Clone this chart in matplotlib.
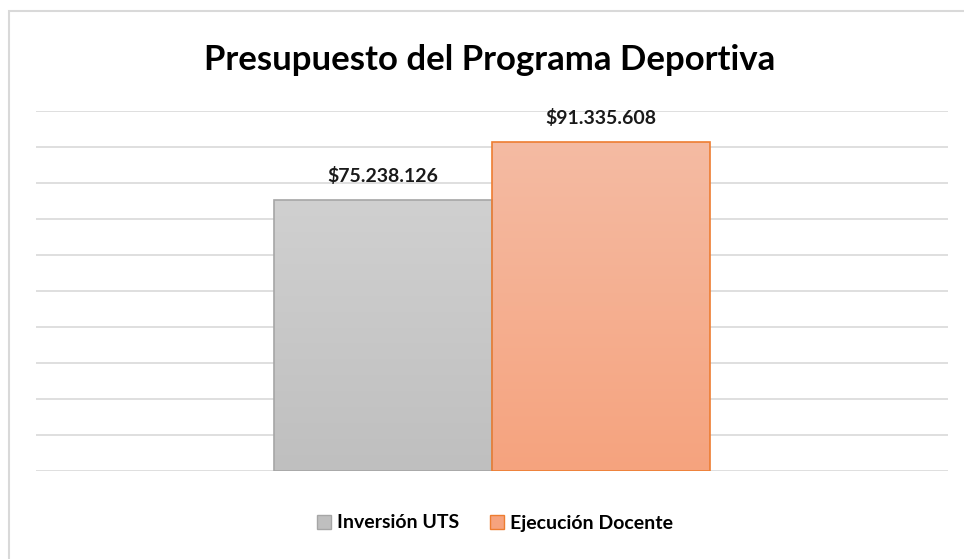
import numpy as np
import matplotlib.pyplot as plt
from matplotlib.patches import Rectangle, Patch

# Data
series = ['Inversión UTS', 'Ejecución Docente']
values = [75238126, 91335608]
labels = ['$75.238.126', '$91.335.608']

GRAY_TOP, GRAY_BOT, GRAY_EDGE = '#d0d0d0', '#bfbfbf', '#a6a6a6'
ORANGE_TOP, ORANGE_BOT, ORANGE_EDGE = '#f4bba3', '#f6a37e', '#ed7d31'

W, H = 964, 559
fig = plt.figure(figsize=(W / 100, H / 100), dpi=100)

# chart frame
fig.patches.append(Rectangle((9 / W, -0.1), 1.1, (H - 11) / H + 0.1,
                             transform=fig.transFigure, fill=False,
                             edgecolor='#d9d9d9', linewidth=1.5))

ax = fig.add_axes([36 / W, (H - 471) / H, 912 / W, 360 / H])
ax.set_ylim(0, 100e6)
ax.set_xlim(-1.592, 2.592)

for y in np.arange(10e6, 100e6 + 1, 10e6):
    ax.axhline(y, color='#d9d9d9', linewidth=1.2, zorder=0)
ax.axhline(0, color='#d9d9d9', linewidth=1.2, zorder=0)

tops = [GRAY_TOP, ORANGE_TOP]
bots = [GRAY_BOT, ORANGE_BOT]
edges = [GRAY_EDGE, ORANGE_EDGE]
bars = ax.bar(range(len(values)), values, width=1.0, color='none',
              edgecolor=edges, linewidth=1.2, zorder=3)

# gradient fill clipped to each bar
for bar, top, bot in zip(bars, tops, bots):
    c1 = np.array(plt.matplotlib.colors.to_rgb(top))
    c2 = np.array(plt.matplotlib.colors.to_rgb(bot))
    t = np.linspace(0, 1, 256)[:, None]
    grad = (c1 * (1 - t) + c2 * t)[:, None, :]
    x0, w, h = bar.get_x(), bar.get_width(), bar.get_height()
    im = ax.imshow(grad, extent=[x0, x0 + w, 0, h], aspect='auto',
                   origin='upper', zorder=2)
    im.set_clip_path(bar)

for bar, lab in zip(bars, labels):
    ax.annotate(lab, (bar.get_x() + bar.get_width() / 2, bar.get_height()),
                xytext=(0, 15), textcoords='offset pixels', ha='center',
                va='bottom', fontsize=14, fontweight='bold', family='Lato',
                color='#1a1a1a')

for s in ax.spines.values():
    s.set_visible(False)
ax.set_xticks([])
ax.set_yticks([])

fig.text(490 / W, 1 - 60 / H, 'Presupuesto del Programa Deportiva',
         ha='center', va='center', fontsize=25, fontweight='bold',
         family='Lato', color='#000000')

handles = [Patch(facecolor=GRAY_BOT, edgecolor=GRAY_EDGE),
           Patch(facecolor=ORANGE_BOT, edgecolor=ORANGE_EDGE)]
fig.legend(handles, series, loc='center', bbox_to_anchor=(495 / W, 1 - 523 / H),
           ncol=2, frameon=False, prop={'family': 'Lato', 'weight': 'bold', 'size': 14},
           handlelength=0.7, handleheight=0.7, handletextpad=0.3, columnspacing=1.6)

fig.savefig('out.png', dpi=100)
